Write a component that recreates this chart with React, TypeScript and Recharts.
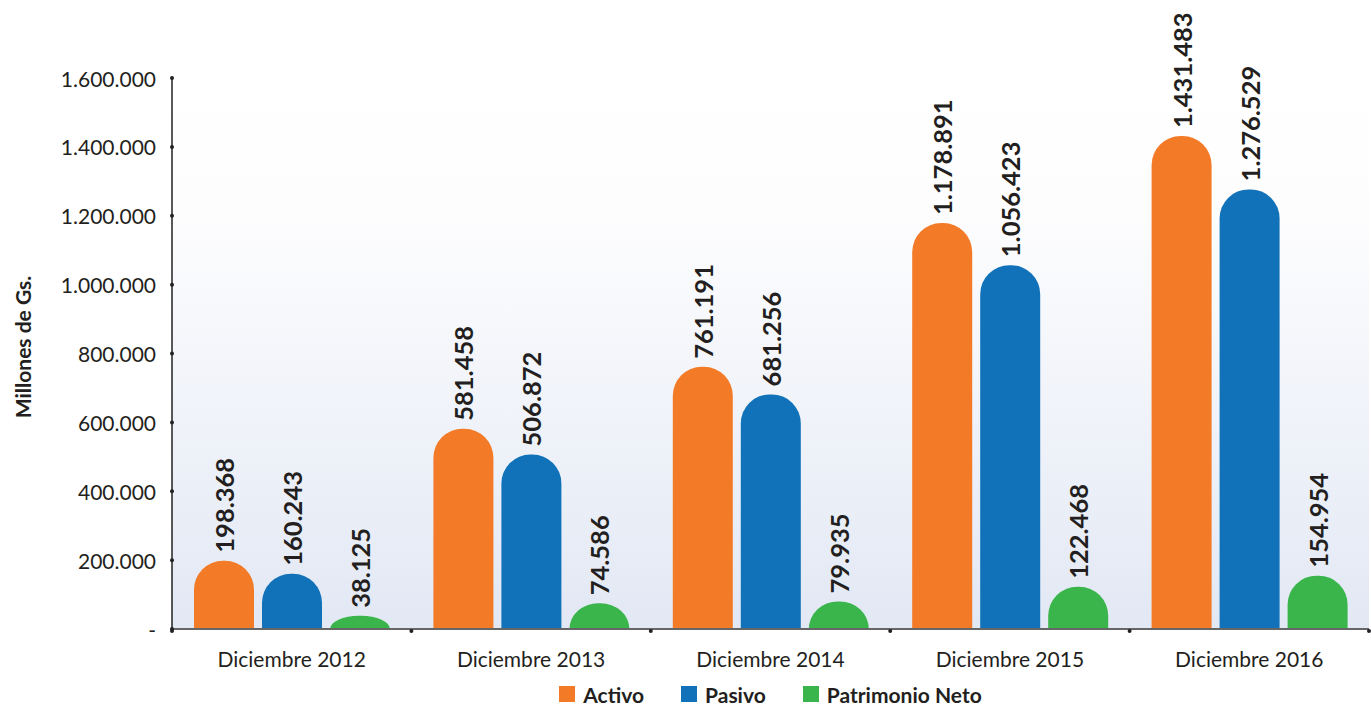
import React from 'react';
import {
    BarChart,
    Bar,
    XAxis,
    YAxis,
    Legend,
    LabelList,
    ReferenceArea,
} from 'recharts';

const categories = ['Diciembre 2012', 'Diciembre 2013', 'Diciembre 2014', 'Diciembre 2015', 'Diciembre 2016'];
const activo = [198368, 581458, 761191, 1178891, 1431483];
const pasivo = [160243, 506872, 681256, 1056423, 1276529];
const patrimonio = [38125, 74586, 79935, 122468, 154954];
const yTicks = [0, 200000, 400000, 600000, 800000, 1000000, 1200000, 1400000, 1600000];

const SERIES = [
    { key: 'activo', name: 'Activo', color: '#F37B28' },
    { key: 'pasivo', name: 'Pasivo', color: '#1172B9' },
    { key: 'patrimonio', name: 'Patrimonio Neto', color: '#3AB54B' },
];

const FONT = 'Lato, "Open Sans", sans-serif';
const WIDTH = 1371;
const HEIGHT = 708;
const LEFT = 172;
const RIGHT = 2;
const BAND = (WIDTH - LEFT - RIGHT) / categories.length;

const chartData = categories.map((c, i) => ({
    name: c,
    activo: activo[i],
    pasivo: pasivo[i],
    patrimonio: patrimonio[i],
}));

// 1.234.567 style
const fmt = (v: number) => String(v).replace(/\B(?=(\d{3})+(?!\d))/g, '.');

const YTick = ({ x, y, payload }: any) => (
    <g>
        <circle cx={x} cy={y} r={2} fill="#222" />
        <text
            x={x - 16}
            y={y}
            textAnchor="end"
            dominantBaseline="central"
            fontFamily={FONT}
            fontSize={21}
            fill="#231F20"
        >
            {payload.value === 0 ? '-' : fmt(payload.value)}
        </text>
    </g>
);

const RightTick = ({ x, y }: any) => <circle cx={x} cy={y} r={2} fill="#222" />;

const XTick = ({ x, y, payload, index }: any) => (
    <g>
        <circle cx={x - BAND / 2} cy={y} r={2} fill="#222" />
        {index === categories.length - 1 && <circle cx={x + BAND / 2} cy={y} r={2} fill="#222" />}
        <text
            x={x}
            y={y + 27}
            textAnchor="middle"
            dominantBaseline="central"
            fontFamily={FONT}
            fontSize={21}
            fill="#231F20"
        >
            {payload.value}
        </text>
    </g>
);

// rounded (elliptical) top so short bars become a dome
const DomeBar = ({ x, y, width, height, fill }: any) => {
    if (!height || height <= 0) return null;
    const rx = Math.min(width / 2, 29);
    const ry = Math.min(height, 29);
    const d = `M${x},${y + height} L${x},${y + ry} A${rx},${ry} 0 0 1 ${x + rx},${y} L${x + width - rx},${y} A${rx},${ry} 0 0 1 ${x + width},${y + ry} L${x + width},${y + height} Z`;
    return <path d={d} fill={fill} />;
};

const ValueLabel = ({ x, y, width, value }: any) => {
    const cx = x + width / 2;
    const cy = y - 8;
    return (
        <text
            x={cx}
            y={cy}
            transform={`rotate(-90, ${cx}, ${cy})`}
            textAnchor="start"
            dominantBaseline="central"
            fontFamily={FONT}
            fontWeight={700}
            fontSize={25.5}
            fill="#231F20"
        >
            {fmt(value)}
        </text>
    );
};

const LegendContent = () => (
    <div
        style={{
            height: 39,
            boxSizing: 'border-box',
            paddingTop: 11,
            paddingLeft: LEFT,
            display: 'flex',
            justifyContent: 'center',
            alignItems: 'center',
            gap: 37,
            fontFamily: FONT,
            fontWeight: 700,
            fontSize: 21,
            color: '#231F20',
        }}
    >
        {SERIES.map((s) => (
            <div key={s.key} style={{ display: 'flex', alignItems: 'center', gap: 8 }}>
                <span style={{ width: 16, height: 16, background: s.color, display: 'inline-block' }} />
                <span>{s.name}</span>
            </div>
        ))}
    </div>
);

export default function App() {
    return (
        <div style={{ position: 'absolute', left: 0, top: 0, width: WIDTH, height: HEIGHT, background: '#fff' }}>
            <BarChart
                width={WIDTH}
                height={HEIGHT}
                data={chartData}
                margin={{ top: 78, right: RIGHT, left: 0, bottom: 0 }}
                barCategoryGap={22}
                barGap={8}
            >
                <defs>
                    <linearGradient id="plotBg" x1="0" y1="0" x2="0" y2="1">
                        <stop offset="0%" stopColor="#ffffff" />
                        <stop offset="25%" stopColor="#fdfdfe" />
                        <stop offset="100%" stopColor="#e2e8f4" />
                    </linearGradient>
                </defs>
                <XAxis
                    dataKey="name"
                    height={40}
                    tickLine={false}
                    tickSize={0}
                    tick={<XTick />}
                    axisLine={{ stroke: '#666', strokeWidth: 2 }}
                    interval={0}
                />
                <YAxis
                    yAxisId="left"
                    width={LEFT}
                    domain={[0, 1600000]}
                    ticks={yTicks}
                    tickLine={false}
                    tickSize={0}
                    tickMargin={0}
                    tick={<YTick />}
                    axisLine={{ stroke: '#222', strokeWidth: 1.5 }}
                    label={() => (
                        <text
                            x={22}
                            y={347}
                            transform="rotate(-90, 22, 347)"
                            textAnchor="middle"
                            dominantBaseline="central"
                            fontFamily={FONT}
                            fontWeight={700}
                            fontSize={21}
                            fill="#231F20"
                        >
                            Millones de Gs.
                        </text>
                    )}
                />
                <YAxis
                    yAxisId="right"
                    orientation="right"
                    width={0}
                    domain={[0, 1600000]}
                    ticks={yTicks}
                    tickLine={false}
                    tickSize={0}
                    tickMargin={0}
                    tick={<RightTick />}
                    axisLine={{ stroke: '#444', strokeWidth: 1.5 }}
                />
                <ReferenceArea
                    yAxisId="left"
                    y1={0}
                    y2={1600000}
                    fill="url(#plotBg)"
                    fillOpacity={1}
                    stroke="none"
                    ifOverflow="visible"
                />
                <Legend verticalAlign="bottom" height={39} content={<LegendContent />} />
                {SERIES.map((s) => (
                    <Bar
                        key={s.key}
                        yAxisId="left"
                        dataKey={s.key}
                        name={s.name}
                        fill={s.color}
                        barSize={60}
                        shape={<DomeBar />}
                        isAnimationActive={false}
                    >
                        <LabelList dataKey={s.key} content={<ValueLabel />} />
                    </Bar>
                ))}
            </BarChart>
        </div>
    );
}
